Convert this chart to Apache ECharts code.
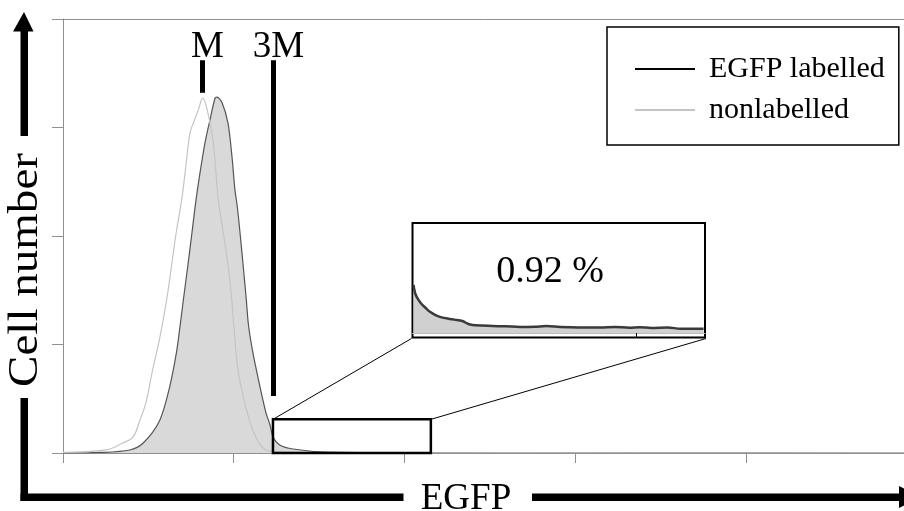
<!DOCTYPE html>
<html><head><meta charset="utf-8">
<script src="https://cdn.jsdelivr.net/npm/echarts@6/dist/echarts.min.js"></script>
<style>html,body{margin:0;padding:0;background:#fff}#c{width:904px;height:511px}</style>
</head><body><div id="c"></div>
<script>
// ---- data ----
const labelledX = [0, 43, 78, 93.7, 113.3, 125, 132.8, 136.5, 141, 146, 151.1, 155.8, 160.5, 166.4, 172.2, 178.1, 180.4, 186.3, 193.3, 198, 201.5, 203.9, 207.4, 211.3, 214.8, 217.3, 222.6, 230.8, 237.8, 242.5, 246, 254, 269.5, 309, 430, 600, 1000];
const labelledY = [0, 0.5, 2.8, 9, 30, 61, 92, 113, 141, 171, 203, 233, 258, 286, 307, 327, 328, 323, 304, 273, 242, 229, 203, 171, 141, 118, 92, 61, 37, 26, 15, 7.4, 3.7, 0.9, 0.3, 0.1, 0];
const unlabelledX = [0, 50, 70, 82, 90, 97, 105, 113.6, 121.4, 126.9, 132.6, 139, 143, 148.8, 152.7, 158.5, 163.7, 170.2, 176.1, 182, 187.8, 193.7, 197.7, 200.4, 205, 213, 222.6, 234.3, 249.6, 300, 1000];
const unlabelledY = [0.5, 2.8, 9.2, 14.7, 30, 46, 76.5, 107, 141, 171, 203, 233, 258, 295, 304, 316, 327, 312, 286, 233, 203, 171, 141, 115, 76.5, 46, 21, 4.6, 1.2, 0.3, 0];
// magnified tail shown in the inset
const insetX = [246.7, 248, 250.1, 252.5, 254.9, 258, 261.8, 266, 270.7, 275, 280.3, 284, 287.2, 294, 300.9, 310, 320, 330, 338, 347.5, 360, 375, 385, 395, 402, 410, 421.6, 430, 446];
const insetY = [10.5, 8.5, 7.2, 6.2, 5.5, 4.6, 3.9, 3.4, 3.1, 2.9, 2.6, 2.0, 1.75, 1.6, 1.5, 1.45, 1.3, 1.35, 1.5, 1.3, 1.2, 1.2, 1.3, 1.15, 1.25, 1.1, 1.2, 0.9, 0.9];
const insetText = '0.92 %';
const markerNames = ['M', '3M'];
const markerX = [163.5, 246.5];
const markerLow = [332, 52.5];
const markerHigh = 362;
const legendNames = ['EGFP labelled', 'nonlabelled'];
const zoomWin = [246, 431, 0, 31]; // x0, x1, y0, y1 of the small box
const axisTitles = ['EGFP', 'Cell number'];

const FONT = "'Liberation Serif', 'Times New Roman', serif";
const AX = '#8f8f8f';
const zip = (xs, ys) => xs.map((x, i) => [x, ys[i]]);

const chart = echarts.init(document.getElementById('c'), null, {renderer: 'canvas'});

const option = {
  animation: false,
  backgroundColor: '#fff',
  grid: [
    {left: 63, top: 19, right: -12.5, bottom: 58, outerBoundsMode: 'none', containLabel: false},
    {left: 412.5, top: 223, width: 292.5, height: 114.5, outerBoundsMode: 'none', containLabel: false,
     show: true, borderColor: '#000', borderWidth: 2, backgroundColor: '#fff'}
  ],
  xAxis: [
    {type: 'value', gridIndex: 0, min: 0, max: 1000, interval: 200, position: 'bottom',
     axisLine: {show: true, onZero: false, lineStyle: {color: AX, width: 1}},
     axisTick: {show: true, length: 10, inside: false, lineStyle: {color: AX}},
     axisLabel: {show: false}, splitLine: {show: false}},
    {type: 'value', gridIndex: 0, min: 0, max: 1000, position: 'top',
     axisLine: {show: true, onZero: false, lineStyle: {color: AX, width: 1}},
     axisTick: {show: false}, axisLabel: {show: false}, splitLine: {show: false}},
    {type: 'value', gridIndex: 1, min: 246, max: 447,
     axisLine: {show: true, onZero: true, lineStyle: {color: '#bdbdbd', width: 1}},
     axisTick: {show: true, length: 5, customValues: [400], lineStyle: {color: '#000', width: 1}},
     axisLabel: {show: false}, splitLine: {show: false}}
  ],
  yAxis: [
    {type: 'value', gridIndex: 0, min: 0, max: 400, interval: 100,
     axisLine: {show: true, onZero: false, lineStyle: {color: AX, width: 1}},
     axisTick: {show: true, length: 11, inside: false, lineStyle: {color: AX}},
     axisLabel: {show: false}, splitLine: {show: false}},
    {type: 'value', gridIndex: 1, min: -1, max: 24,
     axisLine: {show: false}, axisTick: {show: false}, axisLabel: {show: false}, splitLine: {show: false}}
  ],
  legend: {
    show: true, orient: 'vertical', left: 607, top: 27, selectedMode: false,
    icon: 'rect', itemWidth: 60, itemHeight: 2, itemGap: 11,
    padding: [27, 14, 20, 28], borderColor: '#000', borderWidth: 1.5, backgroundColor: '#fff',
    textStyle: {fontFamily: FONT, fontSize: 30, color: '#000', lineHeight: 30, padding: [0, 0, 0, 9]},
    data: [
      {name: legendNames[0], itemStyle: {color: '#000'}},
      {name: legendNames[1], itemStyle: {color: '#c4c4c4'}}
    ]
  },
  series: [
    {name: legendNames[0], type: 'line', xAxisIndex: 0, yAxisIndex: 0, data: zip(labelledX, labelledY),
     showSymbol: false, symbol: 'none', smooth: 0.3, z: 2,
     lineStyle: {color: '#555', width: 1.2}, itemStyle: {color: '#000'},
     areaStyle: {color: '#d9d9d9', opacity: 1},
     markLine: {silent: true, symbol: ['none', 'none'], animation: false,
       lineStyle: {color: '#000', width: 5, type: 'solid'},
       label: {show: true, position: 'end', distance: -6, color: '#000', fontFamily: FONT, fontSize: 37,
               padding: [0, 0, 0, 10], formatter: p => p.name},
       data: markerNames.map((n, i) => [
         {name: n, coord: [markerX[i], markerLow[i]]},
         {coord: [markerX[i], markerHigh]}
       ])},
     markArea: {silent: true, z: 10,
       itemStyle: {color: 'rgba(0,0,0,0)', borderColor: '#000', borderWidth: 2.5},
       label: {show: false},
       data: [[{coord: [zoomWin[0], zoomWin[2]]}, {coord: [zoomWin[1], zoomWin[3]]}]]}
    },
    {name: legendNames[1], type: 'line', xAxisIndex: 0, yAxisIndex: 0, data: zip(unlabelledX, unlabelledY),
     showSymbol: false, symbol: 'none', smooth: 0.4, z: 3,
     lineStyle: {color: '#c4c4c4', width: 1.2}, itemStyle: {color: '#c4c4c4'}},
    {type: 'line', xAxisIndex: 2, yAxisIndex: 1, data: zip(insetX, insetY),
     showSymbol: false, symbol: 'none', smooth: 0.3, z: 4,
     lineStyle: {color: '#3a3a3a', width: 2.5}, areaStyle: {color: '#d0d0d0', opacity: 1}}
  ],
  graphic: [
    {type: 'rect', z: 100, shape: {x: 20.5, y: 30, width: 7.5, height: 106}, style: {fill: '#000'}},
    {type: 'polygon', z: 100, shape: {points: [[13, 31.5], [33.5, 31.5], [24, 12]]}, style: {fill: '#000'}},
    {type: 'rect', z: 100, shape: {x: 20.5, y: 398, width: 7.5, height: 103}, style: {fill: '#000'}},
    {type: 'rect', z: 100, shape: {x: 20.5, y: 493.5, width: 383, height: 7.5}, style: {fill: '#000'}},
    {type: 'rect', z: 100, shape: {x: 532, y: 493.5, width: 370, height: 7.5}, style: {fill: '#000'}},
    {type: 'polygon', z: 100, shape: {points: [[899, 486], [899, 508], [920, 497]]}, style: {fill: '#000'}},
    {type: 'text', z: 100, x: 26, y: 270, rotation: Math.PI / 2, scaleX: 1.12,
     style: {text: axisTitles[1], fontFamily: FONT, fontSize: 42, fill: '#000', align: 'center', verticalAlign: 'middle'}},
    {type: 'text', z: 100, x: 466, y: 499,
     style: {text: axisTitles[0], fontFamily: FONT, fontSize: 37, fill: '#000', align: 'center', verticalAlign: 'middle'}},
    {type: 'text', z: 100, x: 550, y: 272,
     style: {text: insetText, fontFamily: FONT, fontSize: 38, fill: '#000', align: 'center', verticalAlign: 'middle'}}
  ]
};
chart.setOption(option);

// connector lines from the small box to the inset, positioned through the axes' scales
const a = chart.convertToPixel({gridIndex: 0}, [zoomWin[0], zoomWin[3]]);
const b = chart.convertToPixel({gridIndex: 0}, [zoomWin[1], zoomWin[3]]);
const c = chart.convertToPixel({gridIndex: 1}, [246, -1]);
const d = chart.convertToPixel({gridIndex: 1}, [447, -1]);
chart.setOption({graphic: option.graphic.concat([
  {type: 'line', z: 50, shape: {x1: a[0], y1: a[1], x2: c[0] - 1, y2: c[1] + 1}, style: {stroke: '#000', lineWidth: 1}},
  {type: 'line', z: 50, shape: {x1: b[0], y1: b[1], x2: d[0] + 1, y2: d[1] + 1}, style: {stroke: '#000', lineWidth: 1}}
])});
</script></body></html>
